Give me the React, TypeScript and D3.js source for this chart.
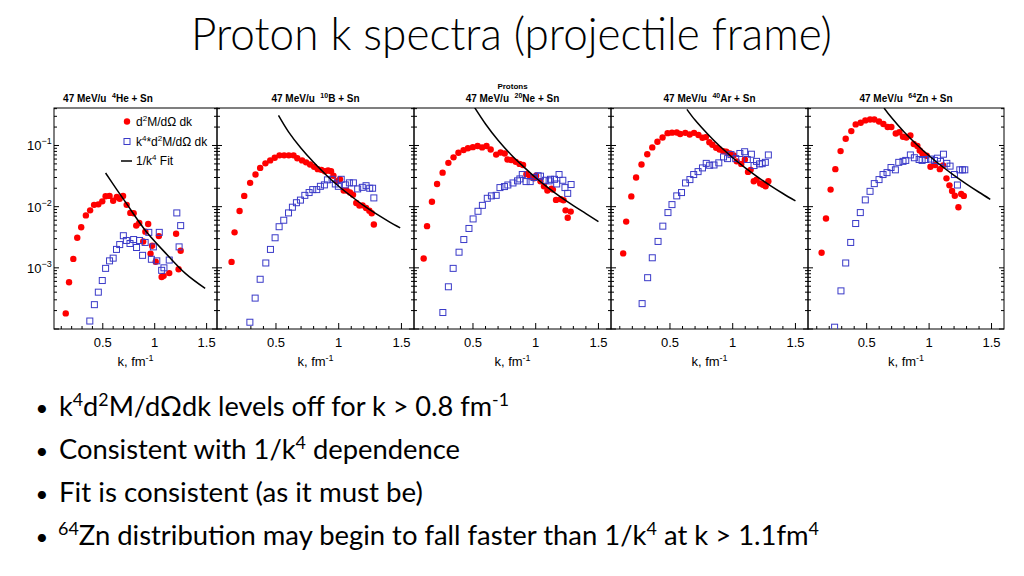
import React from "react";
import * as d3 from "d3";

// ---------- DATA ----------
const projMass = ["4", "10", "20", "40", "64"];
const projElem = ["He", "B", "Ne", "Ar", "Zn"];
const xTickValues = [0.5, 1, 1.5];
const xTickLabels = ["0.5", "1", "1.5"];
const yDecadeValues = [1e-1, 1e-2, 1e-3];
const yDecadeExps = ["\u22121", "\u22122", "\u22123"];
const kDomain: [number, number] = [0.03, 1.6];
const yDomain: [number, number] = [1e-4, 0.41];

type P = [number, number];

const red1: P[] = [
  [0.143, 1.8e-4], [0.175, 5.8e-4], [0.216, 1.4e-3], [0.254, 3.1e-3], [0.292, 4.6e-3],
  [0.337, 7.2e-3], [0.378, 8.7e-3], [0.416, 1.07e-2], [0.457, 1.09e-2], [0.495, 1.22e-2],
  [0.527, 1.48e-2], [0.565, 1.5e-2], [0.6, 1.25e-2], [0.635, 1.44e-2], [0.663, 1.35e-2],
  [0.695, 1.5e-2], [0.73, 1.07e-2], [0.765, 7.9e-3], [0.797, 7.8e-3], [0.822, 4.9e-3],
  [0.851, 5.4e-3], [0.889, 2.7e-3], [0.91, 3.9e-3], [0.937, 5.2e-3], [0.96, 1.7e-3],
  [0.975, 2.3e-3], [1.01, 1.26e-3], [1.04, 3.3e-3], [1.067, 7.1e-4], [1.086, 7.4e-4],
  [1.14, 8.2e-4], [1.206, 3.6e-3], [1.23, 9.5e-4], [1.25, 1.9e-3],
];
const blue1: P[] = [
  [0.375, 1.35e-4], [0.419, 2.5e-4], [0.457, 4.0e-4], [0.495, 6.2e-4], [0.527, 9.8e-4],
  [0.565, 1.3e-3], [0.6, 1.44e-3], [0.632, 2.0e-3], [0.663, 2.4e-3], [0.698, 3.35e-3],
  [0.727, 2.8e-3], [0.762, 2.5e-3], [0.797, 2.9e-3], [0.825, 2.15e-3], [0.854, 2.8e-3],
  [0.883, 1.6e-3], [0.908, 2.6e-3], [0.943, 3.8e-3], [0.968, 1.38e-3], [0.987, 2.2e-3],
  [1.02, 1.3e-3], [1.044, 3.8e-3], [1.067, 9.1e-4], [1.089, 1.0e-3], [1.14, 1.34e-3],
  [1.213, 7.9e-3], [1.235, 2.2e-3], [1.25, 4.9e-3],
];
const fit1: P[] = [
  [0.527, 0.0355], [0.635, 0.019], [0.724, 0.0115], [0.914, 4.0e-3], [1.105, 1.74e-3],
  [1.295, 8.1e-4], [1.486, 4.6e-4],
];

const red2: P[] = [
  [0.146, 1.25e-3], [0.17, 3.8e-3], [0.21, 8.5e-3], [0.247, 1.5e-2], [0.294, 2.45e-2],
  [0.337, 3.35e-2], [0.374, 4.3e-2], [0.416, 5.1e-2], [0.454, 5.7e-2], [0.49, 6.3e-2],
  [0.528, 6.9e-2], [0.565, 6.9e-2], [0.602, 6.9e-2], [0.64, 6.9e-2], [0.67, 6.2e-2],
  [0.708, 5.7e-2], [0.74, 5.3e-2], [0.772, 4.9e-2], [0.804, 4.5e-2], [0.833, 4.1e-2],
  [0.862, 4.0e-2], [0.89, 3.8e-2], [0.915, 3.9e-2], [0.939, 3.8e-2], [0.958, 3.2e-2],
  [0.987, 2.6e-2], [1.01, 2.8e-2], [1.04, 1.83e-2], [1.064, 1.83e-2], [1.09, 1.7e-2],
  [1.114, 1.57e-2], [1.14, 1.15e-2], [1.165, 1.04e-2], [1.19, 1.05e-2], [1.218, 9.5e-3],
  [1.244, 8.6e-3], [1.263, 7.8e-3], [1.28, 5.1e-3],
];
const blue2: P[] = [
  [0.292, 1.29e-4], [0.334, 3.2e-4], [0.374, 6.5e-4], [0.419, 1.2e-3], [0.456, 2.0e-3],
  [0.493, 3.1e-3], [0.525, 4.7e-3], [0.562, 6.0e-3], [0.6, 7.9e-3], [0.631, 9.8e-3],
  [0.663, 1.16e-2], [0.695, 1.28e-2], [0.73, 1.53e-2], [0.764, 1.7e-2], [0.793, 1.9e-2],
  [0.825, 1.9e-2], [0.854, 2.15e-2], [0.886, 2.27e-2], [0.91, 2.74e-2], [0.947, 2.8e-2],
  [0.973, 2.35e-2], [0.997, 2.15e-2], [1.02, 2.8e-2], [1.053, 2.27e-2], [1.085, 2.45e-2],
  [1.117, 2.45e-2], [1.151, 1.95e-2], [1.188, 2.07e-2], [1.218, 2.2e-2], [1.247, 2.0e-2],
  [1.27, 2.0e-2], [1.28, 1.39e-2],
];
const fit2: P[] = [
  [0.52, 0.31], [0.6, 0.167], [0.7, 0.09], [0.8, 0.053], [0.9, 0.033], [1.0, 0.0216],
  [1.1, 0.0148], [1.2, 0.0104], [1.3, 0.0076], [1.4, 0.0057], [1.49, 4.5e-3],
];

const red3: P[] = [
  [0.107, 1.42e-3], [0.134, 4.8e-3], [0.173, 1.2e-2], [0.214, 2.35e-2], [0.258, 3.6e-2],
  [0.304, 5.2e-2], [0.345, 6.4e-2], [0.384, 7.6e-2], [0.425, 8.4e-2], [0.46, 9.0e-2],
  [0.499, 9.4e-2], [0.537, 9.8e-2], [0.573, 9.3e-2], [0.608, 9.8e-2], [0.641, 8.6e-2],
  [0.685, 7.1e-2], [0.72, 7.7e-2], [0.753, 7.4e-2], [0.775, 5.9e-2], [0.805, 5.8e-2],
  [0.841, 5.4e-2], [0.871, 5.0e-2], [0.899, 4.8e-2], [0.926, 3.4e-2], [0.956, 3.1e-2],
  [0.986, 2.9e-2], [1.003, 3.2e-2], [1.038, 2.6e-2], [1.066, 2.15e-2], [1.093, 1.83e-2],
  [1.126, 1.97e-2], [1.137, 1.9e-2], [1.162, 1.29e-2], [1.2, 1.32e-2], [1.222, 1.27e-2],
  [1.238, 8.7e-3], [1.255, 6.6e-3], [1.279, 8.3e-3],
];
const blue3: P[] = [
  [0.26, 1.86e-4], [0.304, 4.9e-4], [0.342, 9.8e-4], [0.389, 1.8e-3], [0.427, 2.9e-3],
  [0.468, 4.4e-3], [0.501, 6.3e-3], [0.54, 8.4e-3], [0.575, 1.05e-2], [0.614, 1.37e-2],
  [0.647, 1.5e-2], [0.685, 1.53e-2], [0.715, 2.05e-2], [0.751, 2.13e-2], [0.778, 2.26e-2],
  [0.819, 2.44e-2], [0.855, 2.64e-2], [0.874, 2.84e-2], [0.893, 3.35e-2], [0.923, 2.57e-2],
  [0.956, 2.57e-2], [0.986, 3.0e-2], [1.019, 3.2e-2], [1.038, 3.15e-2], [1.077, 2.7e-2],
  [1.107, 2.64e-2], [1.118, 2.8e-2], [1.15, 2.8e-2], [1.167, 2.35e-2], [1.186, 3.35e-2],
  [1.216, 2.7e-2], [1.233, 2.05e-2], [1.255, 1.65e-2], [1.282, 2.3e-2],
];
const fit3: P[] = [
  [0.5, 0.46], [0.6, 0.225], [0.7, 0.122], [0.8, 0.072], [0.9, 0.0455], [1.0, 0.0297],
  [1.1, 0.0203], [1.2, 0.0143], [1.3, 0.0104], [1.4, 0.0077], [1.5, 5.7e-3],
];

const red4: P[] = [
  [0.127, 1.72e-3], [0.151, 5.7e-3], [0.192, 1.47e-2], [0.23, 3.0e-2], [0.273, 4.9e-2],
  [0.319, 7.2e-2], [0.359, 9.3e-2], [0.4, 0.115], [0.441, 0.135], [0.481, 0.159],
  [0.516, 0.162], [0.554, 0.163], [0.581, 0.154], [0.622, 0.161], [0.657, 0.151],
  [0.692, 0.161], [0.727, 0.148], [0.759, 0.134], [0.786, 0.137], [0.814, 0.113],
  [0.838, 0.103], [0.868, 0.092], [0.895, 0.086], [0.924, 0.081], [0.949, 0.079],
  [0.978, 0.074], [1.008, 0.069], [1.032, 0.055], [1.068, 0.05], [1.097, 0.059],
  [1.122, 0.037], [1.143, 0.04], [1.168, 0.026], [1.19, 0.0277], [1.219, 0.024],
  [1.241, 0.0228], [1.262, 0.0216], [1.284, 0.026],
];
const blue4: P[] = [
  [0.278, 2.6e-4], [0.322, 6.9e-4], [0.359, 1.46e-3], [0.405, 2.7e-3], [0.443, 4.8e-3],
  [0.484, 8.0e-3], [0.516, 1.08e-2], [0.554, 1.5e-2], [0.592, 1.7e-2], [0.624, 2.44e-2],
  [0.659, 2.77e-2], [0.689, 3.35e-2], [0.724, 3.74e-2], [0.759, 4.3e-2], [0.789, 5.1e-2],
  [0.816, 4.75e-2], [0.851, 4.8e-2], [0.889, 5.2e-2], [0.927, 6.5e-2], [0.959, 6.1e-2],
  [0.986, 7.1e-2], [1.024, 6.1e-2], [1.057, 7.4e-2], [1.095, 7.9e-2], [1.116, 5.9e-2],
  [1.149, 7.2e-2], [1.17, 4.7e-2], [1.19, 5.5e-2], [1.214, 5.0e-2], [1.235, 5.05e-2],
  [1.26, 5.3e-2], [1.284, 7.0e-2],
];
const fit4: P[] = [
  [0.635, 0.39], [0.7, 0.26], [0.8, 0.154], [0.9, 0.096], [1.0, 0.063], [1.1, 0.043],
  [1.2, 0.0304], [1.3, 0.0221], [1.4, 0.0164], [1.5, 0.0124],
];

const red5: P[] = [
  [0.139, 1.76e-3], [0.174, 6.4e-3], [0.211, 1.9e-2], [0.249, 4.1e-2], [0.291, 8.1e-2],
  [0.332, 0.129], [0.377, 0.172], [0.412, 0.221], [0.452, 0.235], [0.489, 0.257],
  [0.527, 0.266], [0.561, 0.266], [0.599, 0.247], [0.634, 0.224], [0.668, 0.2],
  [0.698, 0.2], [0.733, 0.157], [0.762, 0.165], [0.791, 0.139], [0.818, 0.135],
  [0.85, 0.146], [0.877, 0.106], [0.906, 0.098], [0.925, 0.083], [0.947, 0.074],
  [0.981, 0.068], [1.011, 0.045], [1.048, 0.048], [1.086, 0.041], [1.112, 0.047],
  [1.139, 0.029], [1.163, 0.0223], [1.184, 0.018], [1.206, 0.0151], [1.235, 9.8e-3],
  [1.257, 0.0161], [1.278, 0.015],
];
const blue5: P[] = [
  [0.243, 1.07e-4], [0.294, 4.2e-4], [0.332, 1.2e-3], [0.372, 2.6e-3], [0.412, 5.3e-3],
  [0.449, 8.0e-3], [0.489, 1.29e-2], [0.527, 1.78e-2], [0.561, 2.38e-2], [0.599, 2.77e-2],
  [0.631, 3.35e-2], [0.663, 3.6e-2], [0.695, 4.36e-2], [0.73, 4.0e-2], [0.757, 5.3e-2],
  [0.791, 5.5e-2], [0.813, 5.7e-2], [0.85, 7.0e-2], [0.882, 6.3e-2], [0.92, 5.9e-2],
  [0.944, 5.7e-2], [0.973, 5.9e-2], [1.011, 6.0e-2], [1.043, 5.7e-2], [1.067, 6.2e-2],
  [1.091, 5.5e-2], [1.115, 7.2e-2], [1.142, 5.1e-2], [1.168, 4.6e-2], [1.203, 3.35e-2],
  [1.227, 2.26e-2], [1.246, 4.0e-2], [1.267, 4.0e-2], [1.286, 4.0e-2],
];
const fit5: P[] = [
  [0.639, 0.41], [0.7, 0.283], [0.8, 0.166], [0.9, 0.104], [1.0, 0.068], [1.1, 0.0462],
  [1.2, 0.0325], [1.3, 0.0234], [1.4, 0.0172], [1.49, 0.0132],
];

const redSeries = [red1, red2, red3, red4, red5];
const blueSeries = [blue1, blue2, blue3, blue4, blue5];
const fitSeries = [fit1, fit2, fit3, fit4, fit5];

// ---------- LAYOUT ----------
const W = 1024;
const H = 576;
const frameL = [54, 217, 414, 611, 808];
const frameR = [217, 414, 611, 808, 1004];
const padCenters = [108, 315.5, 512.5, 709.5, 906];
const TOP = 108;
const BOTTOM = 329;
const RED = "#ff0000";
const BLUE = "#3a3ac8";
const ROOT_FONT = "'Liberation Sans', Arial, Helvetica, sans-serif";
const SLIDE_FONT = "Lato, 'Open Sans', sans-serif";

function Panel({ i }: { i: number }) {
  const L = frameL[i];
  const R = frameR[i];
  const x = d3.scaleLinear().domain(kDomain).range([L, R]);
  const y = d3.scaleLog().domain(yDomain).range([BOTTOM, TOP]);
  const line = d3
    .line<P>()
    .x((d) => x(d[0]))
    .y((d) => y(d[1]))
    .curve(d3.curveCatmullRom.alpha(0.5));

  const minorX = d3.range(1, 16).map((v) => v / 10);
  const minorY: number[] = [];
  for (let e = -4; e <= -1; e++) {
    for (let m = 1; m <= 9; m++) {
      const v = m * Math.pow(10, e);
      if (v >= yDomain[0] && v <= yDomain[1]) minorY.push(v);
    }
  }
  const cx = (L + R) / 2;
  const clipId = `clip${i}`;

  return (
    <g>
      <defs>
        <clipPath id={clipId}>
          <rect x={L} y={TOP} width={R - L} height={BOTTOM - TOP} />
        </clipPath>
      </defs>
      {minorX.map((v) => {
        const major = xTickValues.some((t) => Math.abs(t - v) < 1e-6);
        return (
          <line key={"xt" + v} x1={x(v)} x2={x(v)} y1={BOTTOM} y2={BOTTOM - (major ? 6 : 3)} stroke="#000" strokeWidth={1} />
        );
      })}
      {minorY.map((v) => {
        const major = Math.abs(Math.log10(v) - Math.round(Math.log10(v))) < 1e-6;
        const len = major ? 5 : 3;
        return (
          <g key={"yt" + v}>
            <line x1={L} x2={L + len} y1={y(v)} y2={y(v)} stroke="#000" strokeWidth={1} />
            <line x1={R} x2={R - len} y1={y(v)} y2={y(v)} stroke="#000" strokeWidth={1} />
          </g>
        );
      })}
      <rect x={L} y={TOP} width={R - L} height={BOTTOM - TOP} fill="none" stroke="#000" strokeWidth={1} />
      <g clipPath={`url(#${clipId})`}>
        {redSeries[i].map((d, j) => (
          <circle key={"r" + j} cx={x(d[0])} cy={y(d[1])} r={3.2} fill={RED} />
        ))}
        {blueSeries[i].map((d, j) => (
          <rect key={"b" + j} x={x(d[0]) - 3} y={y(d[1]) - 3} width={6} height={6} fill="none" stroke={BLUE} strokeWidth={1} />
        ))}
        <path d={line(fitSeries[i]) || ""} fill="none" stroke="#000" strokeWidth={1.5} />
      </g>
      {xTickValues.map((v, j) => (
        <text key={"xl" + j} x={x(v)} y={347} fontSize={13} fontFamily={ROOT_FONT} textAnchor="middle">
          {xTickLabels[j]}
        </text>
      ))}
      <text x={cx} y={366} fontSize={13} fontFamily={ROOT_FONT} textAnchor="middle">
        k, fm<tspan fontSize={9} dy={-5}>-1</tspan>
      </text>
      <text x={padCenters[i]} y={102} fontSize={10} fontWeight="bold" fontFamily={ROOT_FONT} textAnchor="middle">
        47 MeV/u{"\u00a0\u00a0"}
        <tspan fontSize={7} dy={-4}>{projMass[i]}</tspan>
        <tspan dy={4}>{projElem[i]} + Sn</tspan>
      </text>
      {i === 2 && (
        <text x={padCenters[i]} y={89} fontSize={8} fontWeight="bold" fontFamily={ROOT_FONT} textAnchor="middle">
          Protons
        </text>
      )}
      {i === 0 &&
        yDecadeValues.map((v, j) => (
          <text key={"yl" + j} x={27} y={y(v) + 5} fontSize={13} fontFamily={ROOT_FONT}>
            10<tspan fontSize={9} dy={-6}>{yDecadeExps[j]}</tspan>
          </text>
        ))}
      {i === 0 && (
        <g fontFamily={ROOT_FONT} fontSize={12}>
          <circle cx={127} cy={121.5} r={3.2} fill={RED} />
          <text x={136} y={126}>
            d<tspan fontSize={8} dy={-5}>2</tspan>
            <tspan dy={5}>M/dΩ dk</tspan>
          </text>
          <rect x={124} y={138.5} width={6} height={6} fill="none" stroke={BLUE} strokeWidth={1} />
          <text x={136} y={146}>
            k<tspan fontSize={8} dy={-5}>4</tspan>
            <tspan dy={5}>*d</tspan>
            <tspan fontSize={8} dy={-5}>2</tspan>
            <tspan dy={5}>M/dΩ dk</tspan>
          </text>
          <line x1={121} x2={132} y1={161} y2={161} stroke="#000" strokeWidth={1.5} />
          <text x={136} y={165}>
            1/k<tspan fontSize={8} dy={-5}>4</tspan>
            <tspan dy={5}> Fit</tspan>
          </text>
        </g>
      )}
    </g>
  );
}

const bulletY = [416, 459, 502, 545];

export default function App() {
  return (
    <svg width={W} height={H} viewBox={`0 0 ${W} ${H}`} style={{ display: "block", position: "absolute", left: 0, top: 0, background: "#fff" }}>
      <rect x={0} y={0} width={W} height={H} fill="#fff" />
      <text x={191} y={50} fontSize={45} fontWeight={300} fontFamily={SLIDE_FONT} textLength={641} lengthAdjust="spacingAndGlyphs" fill="#000">
        Proton k spectra (projectile frame)
      </text>
      {[0, 1, 2, 3, 4].map((i) => (
        <Panel key={i} i={i} />
      ))}
      <g fontFamily={SLIDE_FONT} fill="#000">
        {bulletY.map((by, j) => (
          <text key={"bu" + j} x={42} y={by} fontSize={22} textAnchor="middle">•</text>
        ))}
        <text x={59} y={bulletY[0]} fontSize={26} textLength={450} lengthAdjust="spacingAndGlyphs">
          k<tspan fontSize={17} dy={-10}>4</tspan>
          <tspan dy={10}>d</tspan>
          <tspan fontSize={17} dy={-10}>2</tspan>
          <tspan dy={10}>M/dΩdk levels off for k &gt; 0.8 fm</tspan>
          <tspan fontSize={17} dy={-10}>-1</tspan>
        </text>
        <text x={59} y={bulletY[1]} fontSize={26} textLength={401} lengthAdjust="spacingAndGlyphs">
          Consistent with 1/k<tspan fontSize={17} dy={-10}>4</tspan>
          <tspan dy={10}> dependence</tspan>
        </text>
        <text x={59} y={bulletY[2]} fontSize={26} textLength={364} lengthAdjust="spacingAndGlyphs">
          Fit is consistent (as it must be)
        </text>
        <text x={58} y={bulletY[3]} fontSize={26} textLength={761} lengthAdjust="spacingAndGlyphs">
          <tspan fontSize={17} dy={-10}>64</tspan>
          <tspan dy={10}>Zn distribution may begin to fall faster than 1/k</tspan>
          <tspan fontSize={17} dy={-10}>4</tspan>
          <tspan dy={10}> at k &gt; 1.1fm</tspan>
          <tspan fontSize={17} dy={-10}>4</tspan>
        </text>
      </g>
    </svg>
  );
}
